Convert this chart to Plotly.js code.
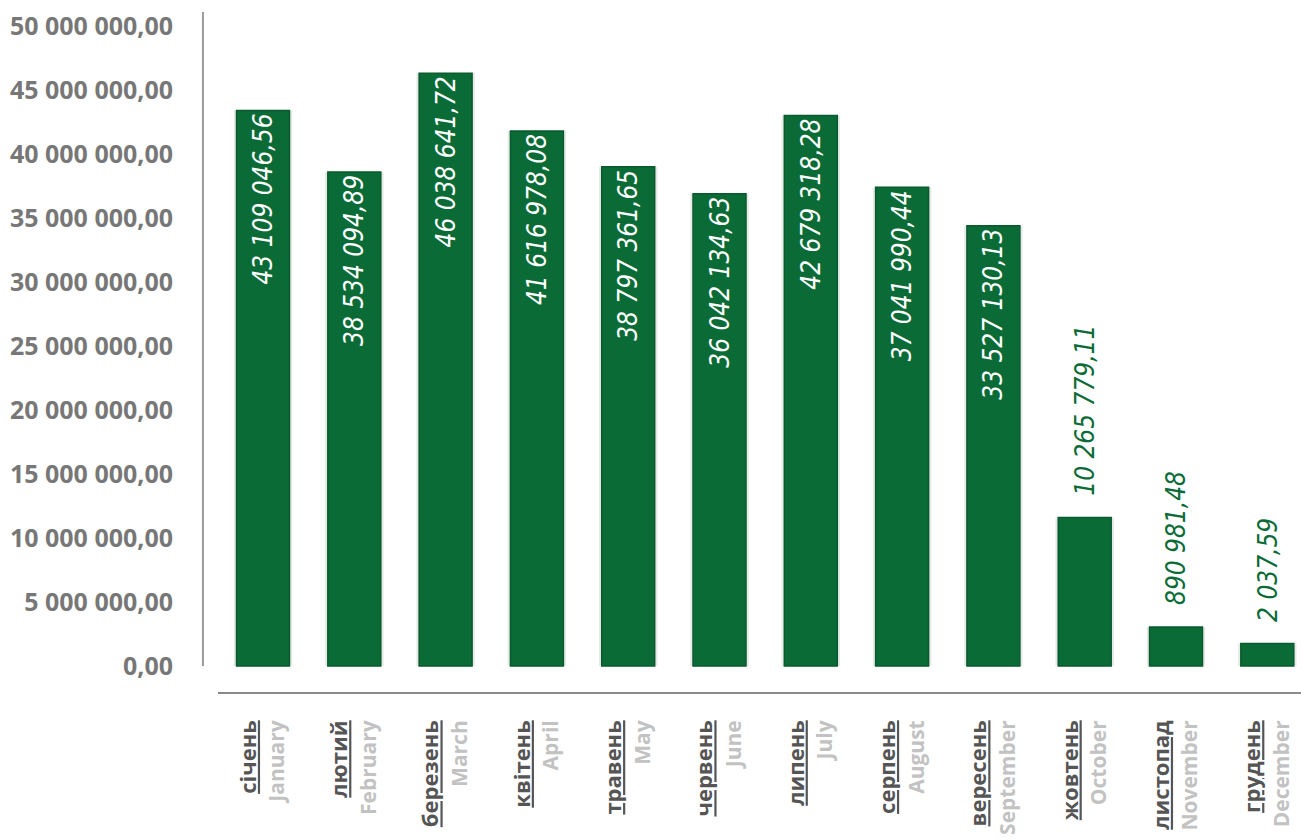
<!DOCTYPE html>
<html>
<head>
<meta charset="utf-8">
<script src="https://cdn.plot.ly/plotly-3.0.1.min.js"></script>
<style>html,body{margin:0;padding:0;background:#fff;}#chart{width:1301px;height:840px;}</style>
</head>
<body>
<div id="chart"></div>
<script>
const monthsUa = ["січень","лютий","березень","квітень","травень","червень","липень","серпень","вересень","жовтень","листопад","грудень"];
const monthsEn = ["January","February","March","April","May","June","July","August","September","October","November","December"];
// bar heights as drawn in the picture
const barHeights = [43400000, 38600000, 46300000, 41800000, 39000000, 36900000, 43000000, 37400000, 34400000, 11600000, 3050000, 1750000];
// amount labels as printed on the bars
const amountLabels = ["43 109 046,56","38 534 094,89","46 038 641,72","41 616 978,08","38 797 361,65","36 042 134,63","42 679 318,28","37 041 990,44","33 527 130,13","10 265 779,11","890 981,48","2 037,59"];
const labelOutside = [false,false,false,false,false,false,false,false,false,true,true,true];
const yTicks = [0,5000000,10000000,15000000,20000000,25000000,30000000,35000000,40000000,45000000,50000000];

const green = "#0b6b37";
const idx = monthsUa.map((_, i) => i);
const handFont = "Liberation Sans Narrow, DejaVu Sans Condensed, sans-serif";

const shadow = {
  type: "bar", x: idx, y: barHeights, width: 0.64,
  marker: {color: "rgba(0,40,20,0.10)", line: {width: 0}},
  hoverinfo: "skip"
};

const trace = {
  type: "bar",
  x: idx,
  y: barHeights,
  width: 0.58,
  marker: {color: green, line: {color: "#095a2d", width: 1.5}},
  text: amountLabels.map((t, i) => labelOutside[i] ? "" : t),
  textposition: "inside",
  insidetextanchor: "end",
  textangle: -90,
  textfont: {family: handFont, size: 26, color: "#ffffff", style: "italic"},
  constraintext: "none",
  hoverinfo: "skip",
  cliponaxis: false
};

const annotations = idx.filter(i => labelOutside[i]).map(i => ({
  x: i, y: barHeights[i], xref: "x", yref: "y",
  text: amountLabels[i],
  textangle: -90,
  showarrow: false,
  xanchor: "center", yanchor: "bottom",
  yshift: 20,
  font: {family: handFont, size: 26, color: green, style: "italic"}
}));

const tickText = idx.map(i => "<b><u>" + monthsUa[i] + "</u></b><br><b><span style='color:#c2c2c2;font-size:21px'>" + monthsEn[i] + "</span></b>");

const layout = {
  width: 1301, height: 840,
  margin: {l: 218, r: 0, t: 12, b: 148},
  paper_bgcolor: "#ffffff", plot_bgcolor: "#ffffff",
  separators: ", ",
  showlegend: false,
  barmode: "overlay",
  xaxis: {
    range: [-0.493, 11.369],
    tickmode: "array", tickvals: idx, ticktext: tickText,
    tickangle: -90,
    showgrid: false, zeroline: false,
    showline: true, linecolor: "#8a8a8a", linewidth: 1.5,
    ticks: "",
    ticklabelstandoff: 18,
    tickfont: {family: "Open Sans, sans-serif", size: 22, color: "#555555"}
  },
  yaxis: {
    range: [-2031250, 51093750],
    tickmode: "array", tickvals: yTicks,
    tickformat: ",.2f",
    showgrid: false, zeroline: false, showline: false,
    ticks: "",
    ticklabelstandoff: 44,
    tickfont: {family: "Open Sans, sans-serif", size: 25, color: "#777777", weight: "bold"}
  },
  shapes: [{
    type: "line", xref: "paper", yref: "y",
    x0: -0.0139, x1: -0.0139, y0: 0, y1: 51093750,
    line: {color: "#9a9a9a", width: 2}
  }],
  annotations: annotations
};

Plotly.newPlot("chart", [shadow, trace], layout, {displayModeBar: false, staticPlot: true});
</script>
</body>
</html>
